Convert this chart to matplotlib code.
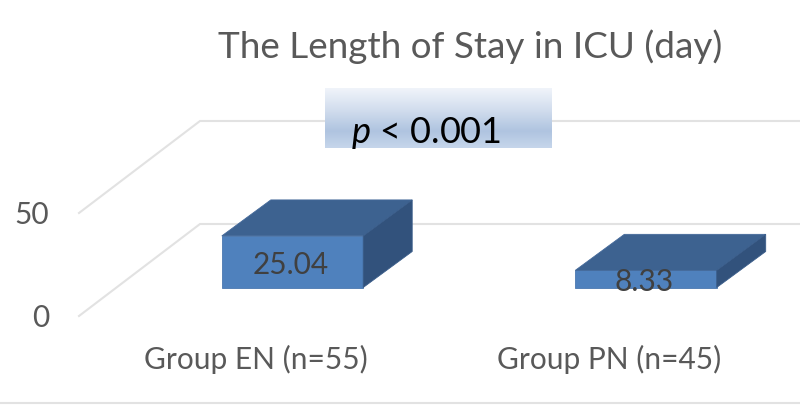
import numpy as np
import matplotlib
matplotlib.use('Agg')
import matplotlib.pyplot as plt
from matplotlib.colors import LinearSegmentedColormap
from matplotlib.patches import Polygon

plt.rcParams['font.family'] = ['Lato', 'DejaVu Sans']
plt.rcParams['mathtext.fontset'] = 'custom'
plt.rcParams['mathtext.rm'] = 'Lato'
plt.rcParams['mathtext.it'] = 'Lato:italic'

# data
groups = ['Group EN (n=55)', 'Group PN (n=45)']
stay_days = [25.04, 8.33]
value_labels = ['25.04', '8.33']
y_ticks = [0, 50]

W, H = 800, 406

# scales, in figure pixels
PX_PER_UNIT = 2.06       # px per day
PX_PER_CAT = 353.5       # px between the two groups
CAT0_PX = 292.5
BAR_BASE_PX = 288.5
BAR_W = 0.4              # in category units
BAR_DX, BAR_DY = 49 / PX_PER_CAT, 36 / PX_PER_UNIT    # bar depth

fig = plt.figure(figsize=(W / 100, H / 100), dpi=100)
ax = fig.add_axes([0, 0, 1, 1])
ax.set_xlim(-CAT0_PX / PX_PER_CAT, (W - CAT0_PX) / PX_PER_CAT)
ax.set_ylim((BAR_BASE_PX - H) / PX_PER_UNIT, BAR_BASE_PX / PX_PER_UNIT)
ax.axis('off')

# wall + floor gridlines (front of the floor sits below the bar base)
GRID_FRONT_X = (79 - CAT0_PX) / PX_PER_CAT
GRID_BACK_X = (200 - CAT0_PX) / PX_PER_CAT
GRID_END_X = (W - CAT0_PX) / PX_PER_CAT
FRONT_DROP = (317 - BAR_BASE_PX) / PX_PER_UNIT
BACK_RISE = (BAR_BASE_PX - 225) / PX_PER_UNIT
grid_col = '#e2e2e2'

for t in y_ticks:
    ax.plot([GRID_FRONT_X, GRID_BACK_X, GRID_END_X],
            [t - FRONT_DROP, t + BACK_RISE, t + BACK_RISE],
            color=grid_col, lw=1.5, solid_joinstyle='miter', zorder=1)
    ax.text(GRID_FRONT_X - 30 / PX_PER_CAT, t - FRONT_DROP - 0.5, str(t), ha='right', va='center',
            fontsize=21.5, color='#595959')

# the 3d bars
for i, (val, lbl, grp) in enumerate(zip(stay_days, value_labels, groups)):
    l, r = i - BAR_W / 2, i + BAR_W / 2
    front = [(l, 0), (r, 0), (r, val), (l, val)]
    top = [(l, val), (r, val), (r + BAR_DX, val + BAR_DY), (l + BAR_DX, val + BAR_DY)]
    side = [(r, 0), (r + BAR_DX, BAR_DY), (r + BAR_DX, val + BAR_DY), (r, val)]
    ax.add_patch(Polygon(front, fc='#4f81bd', ec='#4a78b0', lw=0.6, zorder=3))
    ax.add_patch(Polygon(top, fc='#3d6290', ec='#44699a', lw=0.6, zorder=3))
    ax.add_patch(Polygon(side, fc='#32527c', ec='#3a5d8a', lw=0.6, zorder=3))
    ax.text(i - 0.005, val / 2 - 1 if i == 0 else 3.1, lbl, ha='center', va='center', fontsize=21.5,
            color='#404040', zorder=4)
    ax.text(i - 0.105, -34.5, grp, ha='center', va='center', fontsize=21.5, color='#595959')

# title
ax.text((470 - CAT0_PX) / PX_PER_CAT, (BAR_BASE_PX - 47) / PX_PER_UNIT,
        'The Length of Stay in ICU (day)', ha='center', va='center',
        fontsize=26.6, color='#595959')

# bottom border of the chart area
ax.plot([ax.get_xlim()[0], GRID_END_X], [(BAR_BASE_PX - 404) / PX_PER_UNIT] * 2,
        color=grid_col, lw=1.5, zorder=1)

# p value box with vertical gradient
box = fig.add_axes([325 / W, 1 - 149 / H, 227 / W, 60 / H], zorder=5)
cmap = LinearSegmentedColormap.from_list('pbox', [(0, '#f0f4fa'), (0.35, '#d3deee'),
                                                  (0.72, '#afc4e0'), (1, '#c6d6eb')])
box.imshow(np.linspace(0, 1, 120).reshape(-1, 1), cmap=cmap, aspect='auto', extent=[0, 1, 0, 1])
box.axis('off')
box.text(0.447, 0.27, r'$\mathit{p}$ < 0.001', ha='center', va='center', fontsize=26,
         color='black')

fig.savefig('out.png', dpi=100)
